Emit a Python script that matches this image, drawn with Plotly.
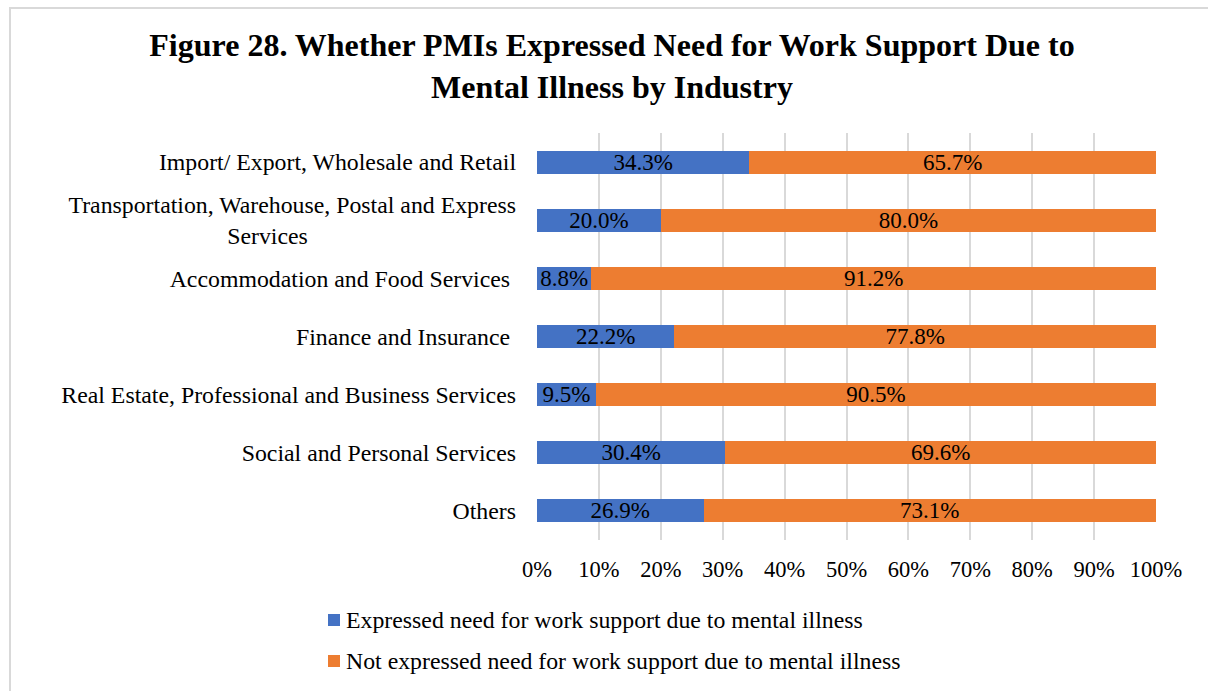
import plotly.graph_objects as go

# Industries (top to bottom) and shares of PMIs, in percent
industries = [
    "Import/ Export, Wholesale and Retail",
    "Transportation, Warehouse, Postal and Express<br>Services" + "\u00a0" * 35,
    "Accommodation and Food Services\u00a0",
    "Finance and Insurance\u00a0",
    "Real Estate, Professional and Business Services",
    "Social and Personal Services",
    "Others",
]
expressed = [34.3, 20.0, 8.8, 22.2, 9.5, 30.4, 26.9]
not_expressed = [65.7, 80.0, 91.2, 77.8, 90.5, 69.6, 73.1]

series_names = [
    "Expressed need for work support due to mental illness",
    "Not expressed need for work support due to mental illness",
]
series_colors = ["#4472C4", "#ED7D31"]
tick_values = list(range(0, 101, 10))

FONT = "Liberation Serif, Times New Roman, serif"
W, H = 1208, 691
M_L, M_R, M_T, M_B = 537, 52, 133, 151
PW, PH = W - M_L - M_R, H - M_T - M_B


def px_x(px):
    """Pixel column -> paper x."""
    return (px - M_L) / PW


def px_y(py):
    """Pixel row -> paper y."""
    return (H - M_B - py) / PH


fig = go.Figure()
for name, vals, color in zip(series_names, [expressed, not_expressed], series_colors):
    fig.add_trace(go.Bar(
        name=name,
        y=industries,
        x=vals,
        orientation="h",
        marker=dict(color=color, line=dict(width=0)),
        text=[f"{v:.1f}%" for v in vals],
        textposition="inside",
        insidetextanchor="middle",
        textangle=0,
        constraintext="none",
        textfont=dict(family=FONT, size=23, color="black"),
        showlegend=False,
    ))

shapes = [
    # outer chart frame
    dict(type="rect", xref="paper", yref="paper",
         x0=px_x(10), x1=px_x(1230), y0=px_y(710), y1=px_y(8),
         line=dict(color="#d9d9d9", width=2), fillcolor="rgba(0,0,0,0)", layer="below"),
]
annotations = []
legend_rows = [620, 661]
for name, color, row in zip(series_names, series_colors, legend_rows):
    shapes.append(dict(type="rect", xref="paper", yref="paper",
                       x0=px_x(328), x1=px_x(340), y0=px_y(row + 6), y1=px_y(row - 6),
                       line=dict(width=0), fillcolor=color))
    annotations.append(dict(xref="paper", yref="paper", x=px_x(344), y=px_y(row),
                            xanchor="left", yanchor="middle", showarrow=False,
                            text=name, font=dict(family=FONT, size=23.8, color="black")))

fig.update_layout(
    width=W, height=H,
    margin=dict(l=M_L, r=M_R, t=M_T, b=M_B, pad=0),
    paper_bgcolor="white", plot_bgcolor="white",
    barmode="stack", bargap=0.604,
    title=dict(
        text="<b>Figure 28. Whether PMIs Expressed Need for Work Support Due to<br>Mental Illness by Industry</b>",
        x=612 / W, xanchor="center", xref="container",
        y=1 - 56 / H, yanchor="top", yref="container",
        font=dict(family=FONT, size=32, color="black"),
    ),
    xaxis=dict(
        range=[0, 100], tickvals=tick_values,
        ticktext=[f"{v}%" for v in tick_values],
        showgrid=True, gridcolor="#d9d9d9", gridwidth=1.5,
        zeroline=False, showline=False, ticks="",
        ticklabelstandoff=13,
        tickfont=dict(family=FONT, size=22.5, color="black"),
        fixedrange=True,
    ),
    yaxis=dict(
        autorange="reversed", showgrid=False, zeroline=False, showline=False,
        ticks="", ticklabelstandoff=20,
        tickfont=dict(family=FONT, size=23.8, color="black"),
        fixedrange=True,
    ),
    shapes=shapes,
    annotations=annotations,
    hovermode=False,
)

fig.write_html("out.html", config={"displayModeBar": False})
